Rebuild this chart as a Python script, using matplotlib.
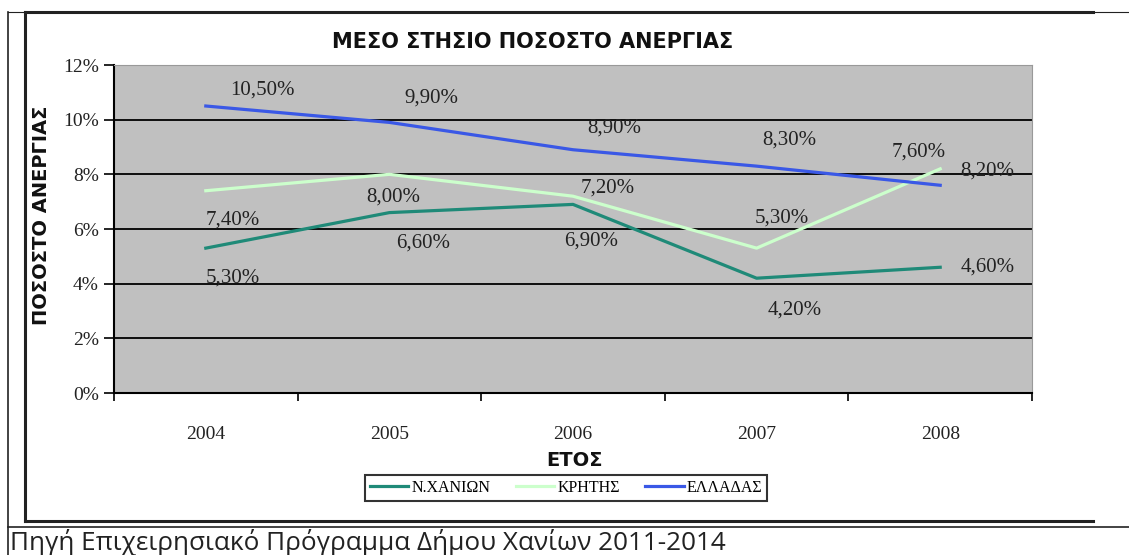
import matplotlib
matplotlib.use("Agg")
from matplotlib import pyplot as plt
from matplotlib.lines import Line2D
from matplotlib.ticker import FuncFormatter

years = ["2004", "2005", "2006", "2007", "2008"]
chania = [5.3, 6.6, 6.9, 4.2, 4.6]
kriti = [7.4, 8.0, 7.2, 5.3, 8.2]
ellada = [10.5, 9.9, 8.9, 8.3, 7.6]
series_names = ["Ν.ΧΑΝΙΩΝ", "ΚΡΗΤΗΣ", "ΕΛΛΑΔΑΣ"]

colors = ["#1f8a78", "#ccffcc", "#3a58e6"]
# label offsets in pixels (dx, dy) relative to the point, like Excel placed them
offsets = [
    [(27, -30), (34, -30), (18, -37), (38, -32), (47, 0)],
    [(27, -29), (4, -23), (35, 8), (25, 30), (47, -2)],
    [(57, 16), (42, 24), (41, 22), (33, 26), (-22, 33)],
]

serif = "Liberation Serif"

fig = plt.figure(figsize=(11.29, 5.55), dpi=100)
ax = fig.add_axes([114 / 1129, 1 - 393 / 555, (1032 - 114) / 1129, (393 - 65) / 555])
ax.set_facecolor("#c0c0c0")

x = list(range(len(years)))
for vals, col, offs, name in zip([chania, kriti, ellada], colors, offsets, series_names):
    ax.plot(x, vals, color=col, lw=2.3, label=name, zorder=3)
    for xi, v, (dx, dy) in zip(x, vals, offs):
        ax.annotate(f"{v:.2f}%".replace(".", ","), (xi, v), xytext=(dx, dy),
                    textcoords="offset pixels", ha="center", va="center",
                    fontsize=15, family=serif, color="#222222", zorder=4)

ax.set_xlim(-0.5, len(years) - 0.5)
ax.set_ylim(0, 12)
ax.set_yticks(range(0, 13, 2))
ax.yaxis.set_major_formatter(FuncFormatter(lambda v, p: f"{int(v)}%"))
ax.set_xticks(x)
ax.set_xticklabels(years)
ax.set_xticks([i - 0.5 for i in range(len(years) + 1)], minor=True)
ax.tick_params(axis="x", which="major", length=0, pad=24, labelsize=14)
ax.tick_params(axis="x", which="minor", length=6, width=1.2, direction="out")
ax.tick_params(axis="y", length=7, width=1.2, direction="out", labelsize=14, pad=4)
for lab in ax.get_xticklabels() + ax.get_yticklabels():
    lab.set_family(serif)
    lab.set_color("#222222")

ax.grid(axis="y", color="black", lw=1.3, zorder=1)
ax.set_axisbelow(True)
ax.spines["left"].set_color("black")
ax.spines["left"].set_linewidth(1.5)
ax.spines["bottom"].set_color("black")
ax.spines["bottom"].set_linewidth(1.5)
ax.spines["top"].set_color("#999999")
ax.spines["right"].set_color("#999999")

fig.text(533 / 1129, 1 - 42 / 555, "ΜΕΣΟ ΣΤΗΣΙΟ ΠΟΣΟΣΤΟ ΑΝΕΡΓΙΑΣ", ha="center", va="center",
         fontsize=15, fontweight="bold", family="DejaVu Sans", color="#111111")
fig.text(42 / 1129, 1 - 215 / 555, "ΠΟΣΟΣΤΟ ΑΝΕΡΓΙΑΣ", ha="center", va="center", rotation=90,
         fontsize=14, fontweight="bold", family="DejaVu Sans", color="#111111")
fig.text(575 / 1129, 1 - 461 / 555, "ΕΤΟΣ", ha="center", va="center",
         fontsize=14, fontweight="bold", family="DejaVu Sans", color="#111111")

handles = [Line2D([], [], color=c, lw=2.3) for c in colors]
leg = fig.legend(handles, series_names, loc="center", bbox_to_anchor=(566 / 1129, 1 - 488 / 555),
                 ncol=3, frameon=True, fancybox=False, handlelength=2.4, handletextpad=0.2,
                 columnspacing=1.6, borderpad=0.3, prop={"family": serif, "size": 11.5})
leg.get_frame().set_edgecolor("black")
leg.get_frame().set_linewidth(1.5)

# page frame lines around the chart
def line(x0, y0, x1, y1, lw):
    fig.add_artist(Line2D([x0 / 1129, x1 / 1129], [1 - y0 / 555, 1 - y1 / 555],
                          color="#222222", lw=lw, transform=fig.transFigure))

line(8, 12, 1129, 12, 0.8)
line(25, 12, 1093, 12, 2.2)
line(25, 12, 25, 521, 2.2)
line(25, 521, 1093, 521, 2.2)
line(8, 12, 8, 555, 1.2)
line(8, 527, 1129, 527, 1.2)

fig.text(10 / 1129, 1 - 542 / 555, "Πηγή Επιχειρησιακό Πρόγραμμα Δήμου Χανίων 2011-2014",
         ha="left", va="center", fontsize=18.8, family="Open Sans", color="#222222")

fig.savefig("out.png", dpi=100)
